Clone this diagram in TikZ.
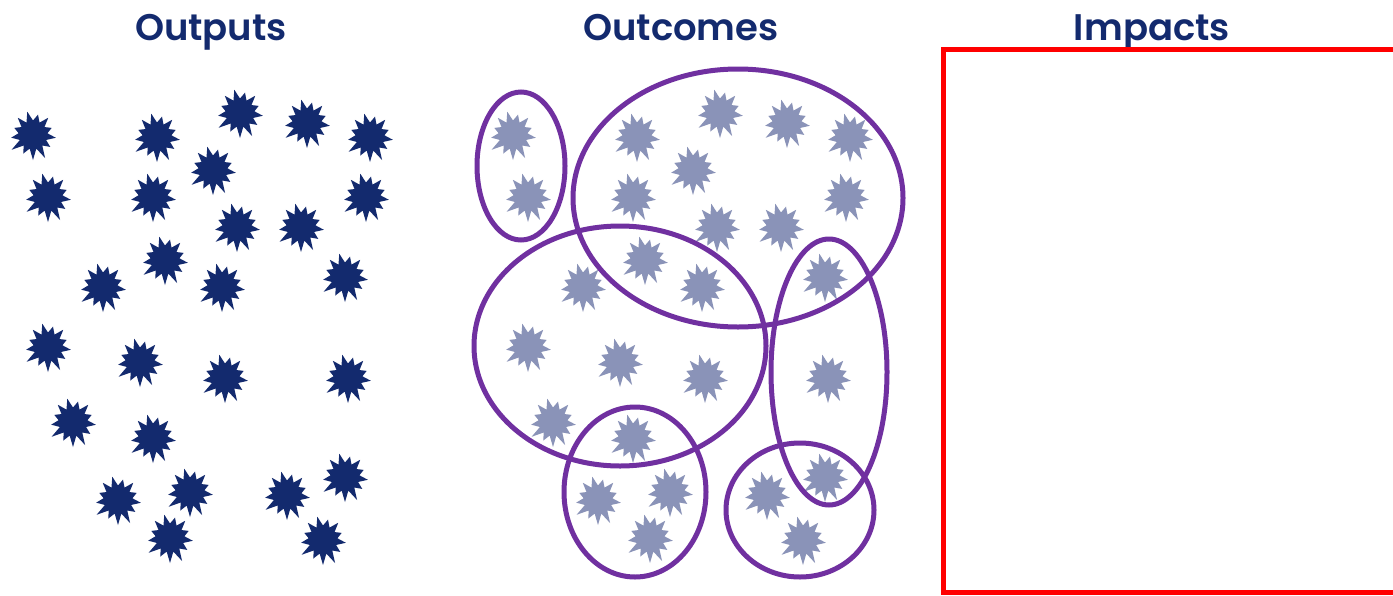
\documentclass[tikz,border=0pt]{standalone}
\usepackage{fontspec}
\setmainfont{Poppins}[BoldFont={Poppins SemiBold}]
\definecolor{navy}{HTML}{132A6E}
\definecolor{lightstar}{HTML}{8A93B8}
\definecolor{grouppurple}{HTML}{7030A0}
\definecolor{impactred}{HTML}{FF0000}
\tikzset{
  burst/.pic={
    \fill[pic actions] (90:25)
      \foreach \a/\r in {103.8/14,117.7/21,131.5/14,145.4/26,159.2/14,173.1/22,187/14.5,200.8/20,214.6/14,228.5/23,242.3/14,256.2/24,270/14.5,283.8/21,297.7/14,311.5/23,325.4/14,339.2/20,353.1/14.5,6.9/23,20.8/14,34.6/21,48.5/14,62.3/26,76.2/14}{ -- (\a:\r)} -- cycle;
  },
  output/.style={fill=navy},
  outcome/.style={fill=lightstar},
  group/.style={draw=grouppurple, line width=5pt},
  title/.style={font=\bfseries\fontsize{37}{40}\selectfont, text=navy, anchor=base, inner sep=0pt},
  impactbox/.style={draw=impactred, line width=5pt}
}
\begin{document}
\begin{tikzpicture}[x=1pt,y=-1pt]
\clip (0,0) rectangle (1393,595);
\fill[white] (0,0) rectangle (1393,595);

\node[title] (tout) at (211,40) {Outputs};
\node[title] (tcome) at (681,40) {Outcomes};
\node[title] (timp) at (1152,40) {Impacts};

\foreach \x/\y [count=\i] in {33/135,157/137,240/113,307/123,370/137,213/170,48/197,153/197,237/227,301/227,366/197,165/260,103/287,222/287,345/277,48/347,140/362,225/378,348/378,73/422,153/438,190/492,118/500,287/495,345/477,170/538,323/540}{
  \pic[output] (o\i) at (\x,\y) {burst};
  \pic[outcome] (c\i) at ({\x+480},\y) {burst};
}

\draw[group] (521,166) ellipse [x radius=44, y radius=74];
\draw[group] (738,198) ellipse [x radius=165, y radius=129];
\draw[group] (620,346) ellipse [x radius=146, y radius=120];
\draw[group] (829,372) ellipse [x radius=58, y radius=133];
\draw[group] (635,492) ellipse [x radius=71, y radius=85];
\draw[group] (800,510) ellipse [x radius=74, y radius=67];

\draw[impactbox] (943.5,49.5) rectangle (1410,592);
\end{tikzpicture}
\end{document}
